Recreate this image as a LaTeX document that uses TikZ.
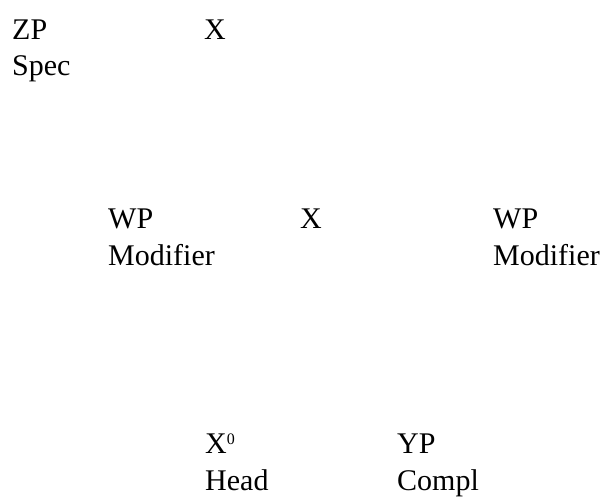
\documentclass[tikz,border=0pt]{standalone}
\usepackage{fontspec}
\setmainfont{Liberation Serif}
\begin{document}
\begin{tikzpicture}[x=1pt,y=1pt,
  lbl/.style={anchor=base west, inner sep=0pt, font=\fontsize{30}{36}\selectfont}]
\useasboundingbox (0,0) rectangle (603,-496);
\node[lbl] (zp) at (12,-39) {ZP};
\node[lbl] (spec) at (12,-75) {Spec};
\node[lbl] (x1) at (204,-39) {X};
\node[lbl] (wp1) at (108,-228) {WP};
\node[lbl] (mod1) at (108,-265) {Modifier};
\node[lbl] (x2) at (300,-228) {X};
\node[lbl] (wp2) at (493,-228) {WP};
\node[lbl] (mod2) at (493,-265) {Modifier};
\node[lbl] (x0) at (205,-453) {X\raisebox{9pt}{\fontsize{16}{16}\selectfont 0}};
\node[lbl] (head) at (205,-490.5) {Head};
\node[lbl] (yp) at (397,-453) {YP};
\node[lbl] (compl) at (397,-490.5) {Compl};
\end{tikzpicture}
\end{document}
